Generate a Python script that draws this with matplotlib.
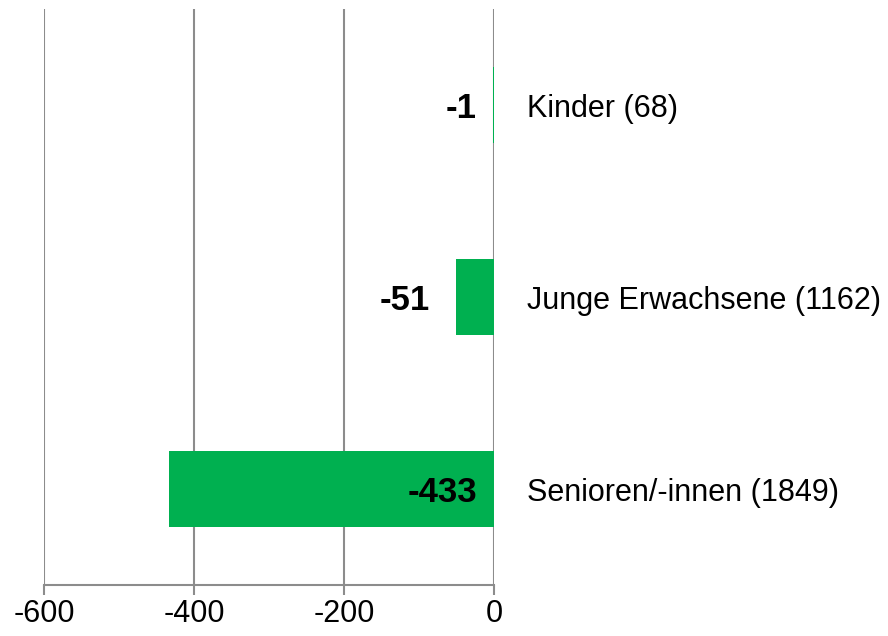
import matplotlib.pyplot as plt

plt.rcParams['font.family'] = ['Liberation Sans', 'DejaVu Sans']

categories = ['Senioren/-innen (1849)', 'Junge Erwachsene (1162)', 'Kinder (68)']
values = [-433, -51, -1]
xticks = [-600, -400, -200, 0]

fig = plt.figure(figsize=(8.88, 6.36), dpi=100)
ax = fig.add_axes([44 / 888, 51 / 636, 450 / 888, 576 / 636])

y = range(len(categories))
ax.barh(y, values, height=0.4, color='#00B050', zorder=2)

ax.set_xlim(-600, 0)
ax.set_ylim(-0.5, len(categories) - 0.5)
ax.set_xticks(xticks)
ax.set_xticklabels([str(t) for t in xticks], fontsize=22)
ax.grid(axis='x', color='#8c8c8c', linewidth=1.5, zorder=1)
ax.tick_params(axis='x', length=7, width=1.5, color='#8c8c8c', pad=3)

ax.yaxis.tick_right()
ax.set_yticks(list(y))
ax.set_yticklabels(categories, fontsize=22)
ax.tick_params(axis='y', length=0, pad=24)

for s in ['top', 'left', 'right']:
    ax.spines[s].set_visible(False)
ax.spines['bottom'].set_color('#8c8c8c')
ax.spines['bottom'].set_linewidth(1.5)

# value labels: near base for tiny/large bars, outside end for the middle one
for yi, v in zip(y, values):
    if v == -51:
        xpos = v - 35
    else:
        xpos = -23
    ax.text(xpos, yi, str(v), ha='right', va='center_baseline', fontsize=25,
            fontweight='bold', zorder=3)

fig.savefig('out.png', dpi=100)
